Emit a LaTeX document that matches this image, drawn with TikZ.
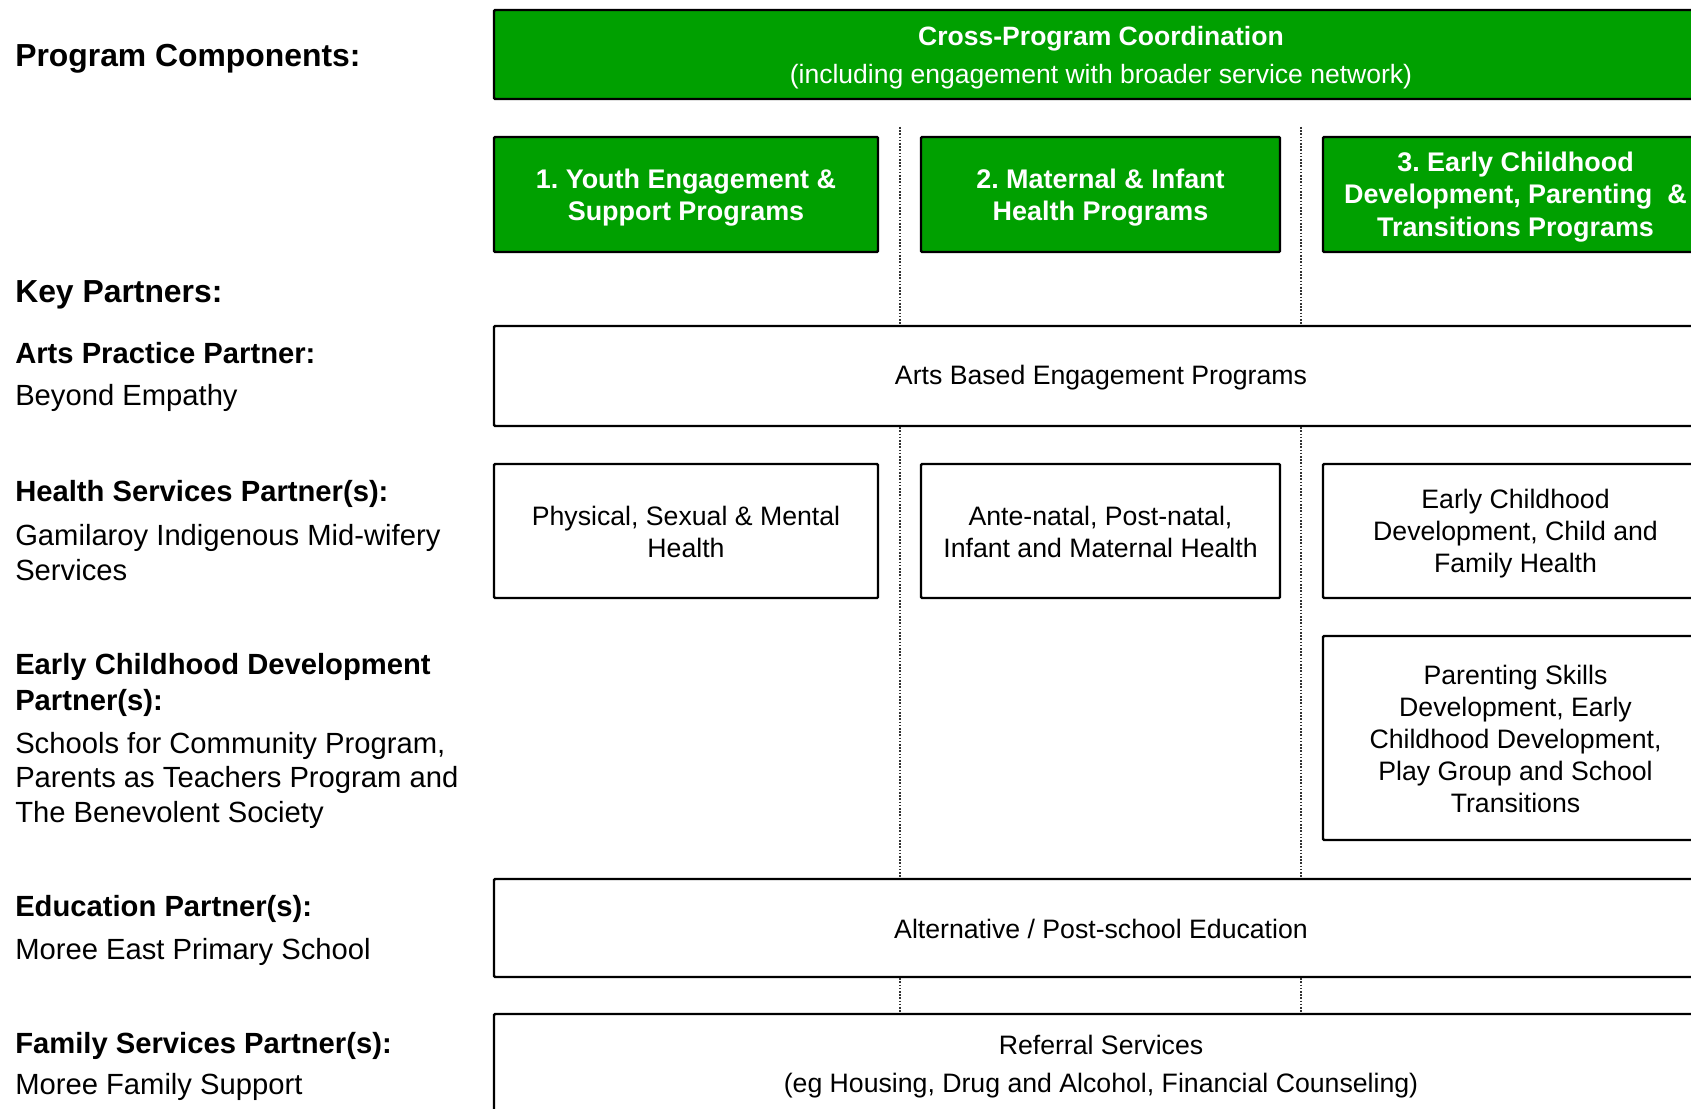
\documentclass[tikz,border=0pt]{standalone}
\usepackage{fontspec}
\setmainfont{Liberation Sans}
\frenchspacing
\definecolor{pgreen}{RGB}{0,160,0}
\begin{document}
\begin{tikzpicture}[x=0.75pt,y=-0.75pt,
  lbig/.style={anchor=base west,inner sep=0pt,font=\fontsize{23.9}{28}\selectfont\bfseries},
  lhead/.style={anchor=base west,inner sep=0pt,font=\fontsize{21.9}{25}\selectfont\bfseries},
  lbody/.style={anchor=base west,inner sep=0pt,font=\fontsize{21.9}{25}\selectfont},
  gbox/.style={draw=black,line width=1.8pt,fill=pgreen,inner sep=0pt,rounded corners=0.8pt},
  wbox/.style={draw=black,line width=1.8pt,fill=white,inner sep=0pt,rounded corners=0.8pt},
  gtext/.style={text=white,align=center,inner sep=0pt,font=\fontsize{20.2}{24.3}\selectfont\bfseries},
  wtext/.style={align=center,inner sep=0pt,font=\fontsize{20}{23.8}\selectfont},
  sep/.style={line width=0.8pt,dash pattern=on 1.2pt off 1.2pt,black!80}]
\useasboundingbox (0,0) rectangle (1691,1109);
\clip (0,0) rectangle (1691,1109);
\fill[white] (0,0) rectangle (1691,1109);

% left column
\node[lbig] (pc) at (15,67) {Program Components:};
\node[lbig] (kp) at (15,302) {Key Partners:};
\node[lhead] (ap) at (15,363) {Arts Practice Partner:};
\node[lbody] (be) at (15,405) {Beyond Empathy};
\node[lhead] (hs) at (15,501) {Health Services Partner(s):};
\node[lbody] (gi) at (15,545) {Gamilaroy Indigenous Mid-wifery};
\node[lbody] (sv) at (15,580) {Services};
\node[lhead] (ec1) at (15,674) {Early Childhood Development};
\node[lhead] (ec2) at (15,710) {Partner(s):};
\node[lbody] (sc1) at (15,753) {Schools for Community Program,};
\node[lbody] (sc2) at (15,787) {Parents as Teachers Program and};
\node[lbody] (sc3) at (15,822) {The Benevolent Society};
\node[lhead] (ep) at (15,916) {Education Partner(s):};
\node[lbody] (me) at (15,959) {Moree East Primary School};
\node[lhead] (fs) at (15,1053) {Family Services Partner(s):};
\node[lbody] (mf) at (15,1094) {Moree Family Support};

% separator start points
\coordinate (d1) at (900,127);
\coordinate (d2) at (1301,127);

% boxes
\node[gbox,minimum width=910.5pt,minimum height=66.75pt] (cross) at (1101,54.5) {};
\node[gbox,minimum width=288pt,minimum height=86.25pt] (g1) at (686,194.5) {};
\node[gbox,minimum width=269.25pt,minimum height=86.25pt] (g2) at (1100.5,194.5) {};
\node[gbox,minimum width=288.75pt,minimum height=86.25pt] (g3) at (1515.5,194.5) {};
\node[wbox,minimum width=910.5pt,minimum height=75pt] (arts) at (1101,376) {};
\node[wbox,minimum width=288pt,minimum height=100.5pt] (h1) at (686,531) {};
\node[wbox,minimum width=269.25pt,minimum height=100.5pt] (h2) at (1100.5,531) {};
\node[wbox,minimum width=288.75pt,minimum height=100.5pt] (h3) at (1515.5,531) {};
\node[wbox,minimum width=288.75pt,minimum height=153pt] (par) at (1515.5,738) {};
\node[wbox,minimum width=910.5pt,minimum height=73.5pt] (edu) at (1101,928) {};
\node[wbox,minimum width=910.5pt,minimum height=75pt] (ref) at (1101,1064) {};

% box texts
\node[gtext,font=\fontsize{19.9}{28.5}\selectfont] (crosst) at ([yshift=-2.4pt]cross.center)
  {\textbf{Cross-Program Coordination}\\(including engagement with broader service network)};
\node[gtext] (g1t) at ([yshift=-2.4pt]g1.center) {1. Youth Engagement \&\\Support Programs};
\node[gtext] (g2t) at ([yshift=-2.4pt]g2.center) {2. Maternal \& Infant\\Health Programs};
\node[gtext] (g3t) at ([yshift=-1.8pt]g3.center) {3. Early Childhood\\Development, Parenting~~\&\\Transitions Programs};
\node[wtext] (artst) at ([yshift=-1.5pt]arts.center) {Arts Based Engagement Programs};
\node[wtext] (h1t) at ([yshift=-0.5pt]h1.center) {Physical, Sexual \& Mental\\Health};
\node[wtext] (h2t) at ([yshift=-0.7pt]h2.center) {Ante-natal, Post-natal,\\Infant and Maternal Health};
\node[wtext] (h3t) at ([yshift=-2pt]h3.center) {Early Childhood\\Development, Child and\\Family Health};
\node[wtext,font=\fontsize{20}{24.1}\selectfont] (part) at ([yshift=-0.8pt]par.center)
  {Parenting Skills\\Development, Early\\Childhood Development,\\Play Group and School\\Transitions};
\node[wtext] (edut) at ([yshift=-0.8pt]edu.center) {Alternative / Post-school Education};
\node[wtext,font=\fontsize{20}{28.5}\selectfont] (reft) at ([yshift=-2.2pt]ref.center)
  {Referral Services\\(eg Housing, Drug and Alcohol, Financial Counseling)};

% dotted separators
\draw[sep] (d1) -- (arts.north -| d1);
\draw[sep] (arts.south -| d1) -- (edu.north -| d1);
\draw[sep] (edu.south -| d1) -- (ref.north -| d1);
\draw[sep] (d2) -- (arts.north -| d2);
\draw[sep] (arts.south -| d2) -- (edu.north -| d2);
\draw[sep] (edu.south -| d2) -- (ref.north -| d2);
\end{tikzpicture}
\end{document}
